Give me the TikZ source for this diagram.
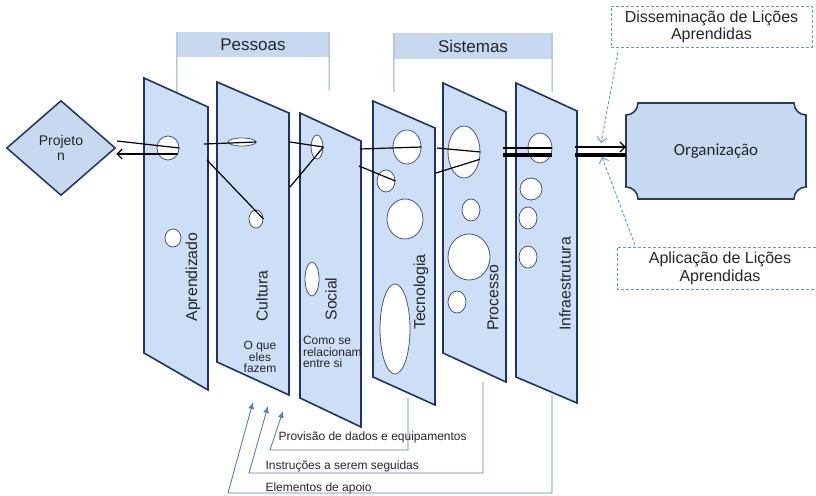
\documentclass[tikz,border=0pt]{standalone}
\usepackage{fontspec}
\setmainfont{Liberation Sans}
\newfontfamily\calibri{Carlito}
\usetikzlibrary{shapes.geometric,arrows.meta}
\definecolor{panelfill}{RGB}{204,223,246}
\definecolor{paneledge}{RGB}{28,52,102}
\definecolor{bandfill}{RGB}{198,217,240}
\definecolor{bandline}{RGB}{140,170,214}
\definecolor{holeedge}{RGB}{72,86,122}
\definecolor{shapeedge}{RGB}{38,62,92}
\definecolor{tipblue}{RGB}{79,129,189}
\definecolor{dashblue}{RGB}{91,155,213}
\definecolor{ink}{RGB}{38,38,38}
\tikzset{
  panel/.style={draw=paneledge, fill=panelfill, line width=1.6pt},
  hole/.style={ellipse, draw=holeedge, fill=white, line width=0.8pt, inner sep=0pt},
  plabel/.style={rotate=90, text=ink, font=\fontsize{15.8}{18}\selectfont},
  band/.style={fill=bandfill, text=ink, inner sep=0pt, font=\fontsize{17}{19}\selectfont},
  bandedge/.style={draw=bandline, line width=1pt},
  link/.style={draw=black, line width=1.2pt},
  heavy/.style={draw=black, line width=3.6pt},
  note/.style={text=ink, font=\fontsize{12}{11.5}\selectfont},
  feed/.style={draw=tipblue, line width=0.9pt, -{Latex[length=7pt,width=6pt]}},
  lesson/.style={draw=dashblue, line width=0.9pt, dash pattern=on 3pt off 2pt},
  >={Straight Barb[length=5pt,width=10pt]}
}
\begin{document}
\begin{tikzpicture}[x=1pt,y=-1pt]
\useasboundingbox (0,0) rectangle (816,495);

\node[band, minimum width=152pt, minimum height=25pt] (pes) at (253,44.5) {Pessoas};
\node[band, minimum width=158pt, minimum height=26pt] (sis) at (473,46) {Sistemas};
\draw[bandedge] (177,92) -- (pes.north west);
\draw[bandedge] (329,90) -- (pes.north east);
\draw[bandedge] (394,92) -- (sis.north west);
\draw[bandedge] (552,92) -- (sis.north east);

\draw[panel] (144,78) -- (208,107) -- (208,390) -- (144,353) -- cycle;
\draw[panel] (217,82) -- (289,113) -- (289,395) -- (217,362) -- cycle;
\draw[panel] (300,113) -- (361,141) -- (361,427) -- (300,398) -- cycle;
\draw[panel] (373,101) -- (435,128) -- (435,405) -- (373,377) -- cycle;
\draw[panel] (443,83) -- (506,112) -- (506,382) -- (443,353) -- cycle;
\draw[panel] (516,83) -- (577,111) -- (577,403) -- (516,377) -- cycle;

\node[hole, minimum width=22pt, minimum height=24pt] (apA) at (168,148) {};
\node[hole, minimum width=16pt, minimum height=18pt] (apB) at (173,238) {};
\node[hole, minimum width=28pt, minimum height=8pt] (cuA) at (242,142) {};
\node[hole, minimum width=14pt, minimum height=18pt] (cuB) at (256,219) {};
\node[hole, minimum width=12pt, minimum height=24pt] (soA) at (317,147) {};
\node[hole, minimum width=14pt, minimum height=34pt] (soB) at (312,279) {};
\node[hole, minimum width=28pt, minimum height=34pt] (teA) at (407,147) {};
\node[hole, minimum width=18pt, minimum height=22pt] (teB) at (386,181) {};
\node[hole, minimum width=36pt, minimum height=40pt] (teC) at (405,219) {};
\node[hole, minimum width=30pt, minimum height=90pt] (teD) at (395,329) {};
\node[hole, minimum width=32pt, minimum height=52pt] (prA) at (464,152) {};
\node[hole, minimum width=18pt, minimum height=22pt] (prB) at (471,210) {};
\node[hole, minimum width=42pt, minimum height=46pt] (prC) at (469,257) {};
\node[hole, minimum width=18pt, minimum height=22pt] (prD) at (457,302) {};
\node[hole, minimum width=24pt, minimum height=30pt] (inA) at (540,148) {};
\node[hole, minimum width=22pt, minimum height=22pt] (inB) at (531,189) {};
\node[hole, minimum width=18pt, minimum height=22pt] (inC) at (528,218) {};
\node[hole, minimum width=18pt, minimum height=22pt] (inD) at (528,257) {};

\node[plabel] (apr) at (193,277) {Aprendizado};
\node[plabel] (cul) at (262,296) {Cultura};
\node[plabel] (soc) at (331,299) {Social};
\node[plabel] (tec) at (421,292) {Tecnologia};
\node[plabel] (pro) at (493,298) {Processo};
\node[plabel] (inf) at (565,284) {Infraestrutura};
\node[note, align=center] (culnote) at (260,357) {O que\\eles\\fazem};
\node[note, align=left, anchor=west] (socnote) at (299.5,352) {Como se\\relacionam\\entre si};

\node[diamond, draw=shapeedge, fill=bandfill, line width=1.6pt, minimum width=109pt, minimum height=95pt,
  inner sep=0pt, align=center, text=ink, font=\fontsize{14}{15}\selectfont] (proj) at (61,148) {Projeto\\n};

\draw[draw=shapeedge, fill=bandfill, line width=1.6pt]
  (638,103) -- (794,103) arc[start angle=180, end angle=270, radius=12pt]
  -- (806,187) arc[start angle=90, end angle=180, radius=12pt]
  -- (638,199) arc[start angle=0, end angle=90, radius=12pt]
  -- (626,115) arc[start angle=270, end angle=360, radius=12pt] -- cycle;
\node[minimum width=180pt, minimum height=96pt, text=ink, font=\calibri\fontsize{17}{19}\selectfont] (org) at (716,151) {Organização};

\coordinate (pa) at (117,141);
\coordinate (pb) at (178,154);
\coordinate (apR1) at (204,144);
\coordinate (apR2) at (207,160);
\coordinate (cuR1) at (290,142);
\coordinate (cuR2) at (290,187);
\coordinate (soR1) at (360,149);
\coordinate (soR2) at (359,166);
\coordinate (teR1) at (437,148);
\coordinate (teR2) at (436,173);
\coordinate (prR1) at (503,148);
\coordinate (prR2) at (503,155);
\coordinate (inR1) at (575,147);
\coordinate (inR2) at (575,155);
\draw[link] (pa) -- (apA.east);
\draw[link, ->] (pb) -- (proj.east |- pb);
\draw[link] (apR1) -- (cuA.east);
\draw[link] (apR2) -- (cuB.east);
\draw[link] (cuR1) -- (soA.east);
\draw[link] (cuR2) -- (soA.east);
\draw[link] (soR1) -- (teA.east);
\draw[link] (soR2) -- (teB.east);
\draw[link] (teR1) -- (prA.east);
\draw[link] (teR2) -- (prA.-25);
\draw[link] (prR1) -- (inA.east |- prR1);
\draw[heavy] (prR2) -- (inA.east |- prR2);
\draw[link, ->] (inR1) -- (org.west |- inR1);
\draw[heavy] (inR2) -- (org.west |- inR2);

\node[lesson, draw, minimum width=201pt, minimum height=41pt, align=center, text=ink,
  font=\fontsize{16}{17}\selectfont] (dis) at (711.5,26.5) {Disseminação de Lições\\Aprendidas};
\node[align=center, text=ink, font=\fontsize{16}{18}\selectfont] (apl) at (720,268) {Aplicação de Lições\\Aprendidas};
\draw[lesson] (816,247) -| (617,289) -- (816,289);
\coordinate (disT) at (601,143);
\coordinate (aplT) at (602,157);
\draw[lesson, ->] (618,52) -- (disT);
\draw[lesson, ->] (635,245) -- (aplT);

\coordinate (tecB) at (408,398);
\coordinate (proB) at (483,382);
\coordinate (infB) at (552,395);
\draw[feed] (tecB) -- (408,450) -- (270,450) -- (283,411);
\draw[feed] (proB) -- (483,473) -- (249,473) -- (268,406);
\draw[feed] (infB) -- (552,493) -- (228,493) -- (253,402);
\node[note, anchor=west] (prov) at (275,437) {Provisão de dados e equipamentos};
\node[note, anchor=west] (inst) at (262,466) {Instruções a serem seguidas};
\node[note, anchor=west] (elem) at (262,488) {Elementos de apoio};
\end{tikzpicture}
\end{document}
